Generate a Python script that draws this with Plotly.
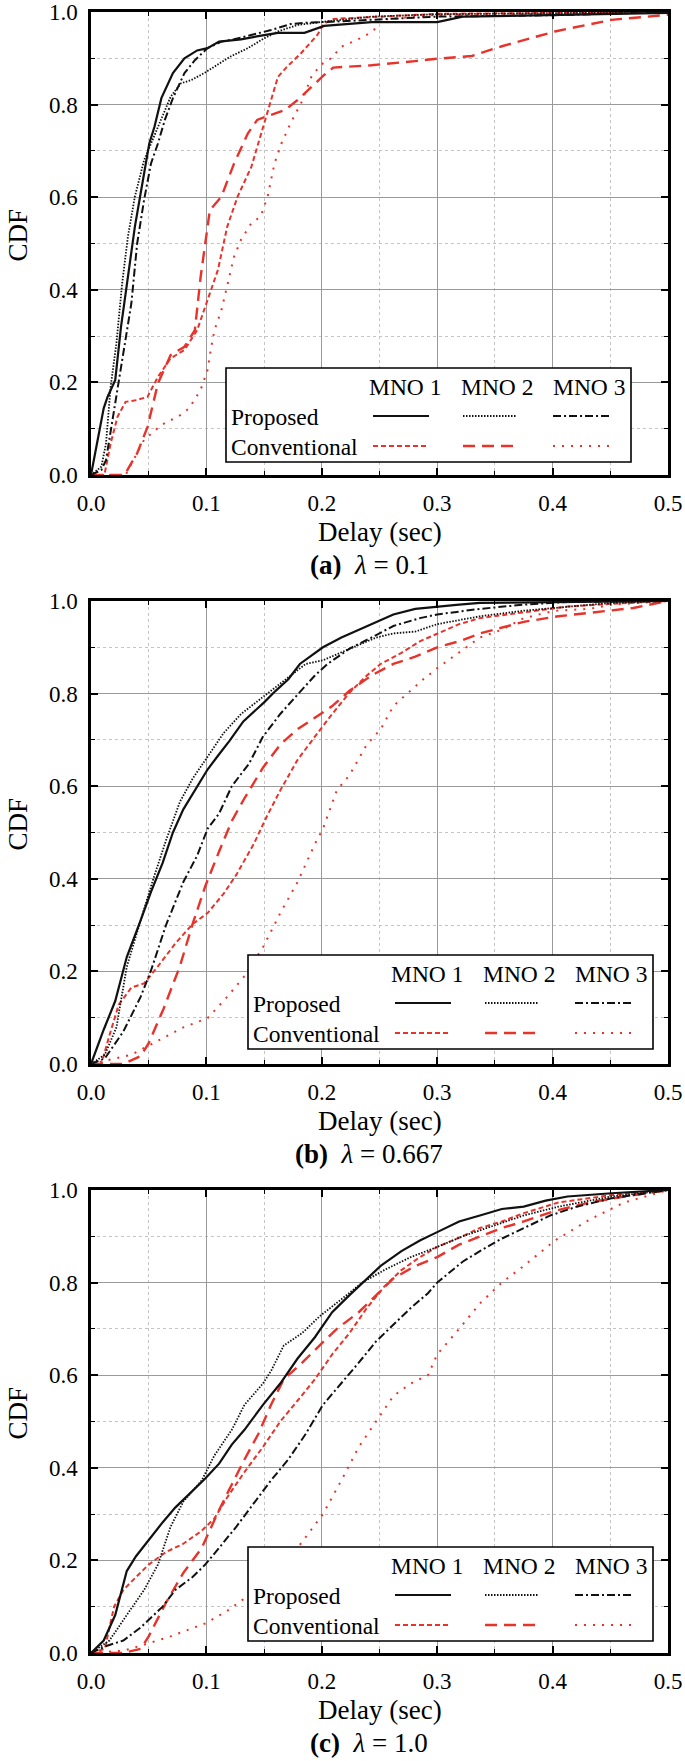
import plotly.graph_objects as go

# ---------------- data: panel (a) lambda = 0.1 ----------------
A_P1_X = [0, 0.011, 0.0144, 0.021, 0.026, 0.032, 0.038, 0.043, 0.0505, 0.055, 0.061, 0.071, 0.081, 0.092, 0.101, 0.111, 0.13, 0.15, 0.162, 0.185, 0.194, 0.202, 0.243, 0.3, 0.322, 0.5]
A_P1_Y = [0, 0.144, 0.169, 0.205, 0.32, 0.428, 0.536, 0.608, 0.716, 0.752, 0.814, 0.868, 0.90, 0.917, 0.922, 0.936, 0.941, 0.95, 0.955, 0.955, 0.963, 0.97, 0.978, 0.978, 0.99, 0.998]
A_P2_X = [0, 0.009, 0.013, 0.017, 0.022, 0.027, 0.032, 0.038, 0.046, 0.052, 0.061, 0.069, 0.078, 0.087, 0.098, 0.11, 0.121, 0.136, 0.15, 0.162, 0.179, 0.202, 0.243, 0.3, 0.5]
A_P2_Y = [0, 0.018, 0.068, 0.19, 0.284, 0.414, 0.515, 0.601, 0.68, 0.716, 0.767, 0.817, 0.846, 0.853, 0.868, 0.886, 0.904, 0.922, 0.943, 0.958, 0.972, 0.979, 0.99, 0.995, 1.0]
A_P3_X = [0, 0.009, 0.013, 0.019, 0.027, 0.035, 0.04, 0.046, 0.052, 0.058, 0.064, 0.071, 0.081, 0.09, 0.101, 0.113, 0.124, 0.139, 0.156, 0.173, 0.188, 0.208, 0.3, 0.4, 0.5]
A_P3_Y = [0, 0.011, 0.032, 0.126, 0.248, 0.371, 0.50, 0.594, 0.673, 0.716, 0.767, 0.814, 0.868, 0.896, 0.922, 0.936, 0.941, 0.95, 0.961, 0.974, 0.977, 0.979, 0.99, 0.993, 1.0]
A_C1_X = [0, 0.0116, 0.017, 0.023, 0.03, 0.04, 0.049, 0.058, 0.069, 0.081, 0.092, 0.101, 0.11, 0.118, 0.127, 0.139, 0.15, 0.162, 0.17, 0.182, 0.196, 0.202, 0.21, 0.3, 0.5]
A_C1_Y = [0, 0, 0.068, 0.126, 0.158, 0.162, 0.169, 0.212, 0.252, 0.27, 0.313, 0.378, 0.443, 0.536, 0.601, 0.666, 0.76, 0.86, 0.882, 0.911, 0.95, 0.975, 0.985, 0.996, 1.0]
A_C2_X = [0, 0.029, 0.04, 0.049, 0.058, 0.069, 0.081, 0.09, 0.095, 0.103, 0.113, 0.124, 0.136, 0.144, 0.156, 0.168, 0.179, 0.191, 0.202, 0.21, 0.243, 0.281, 0.3, 0.33, 0.356, 0.402, 0.451, 0.5]
A_C2_Y = [0, 0, 0.047, 0.104, 0.198, 0.259, 0.277, 0.313, 0.428, 0.572, 0.601, 0.673, 0.738, 0.767, 0.778, 0.788, 0.81, 0.839, 0.864, 0.88, 0.885, 0.894, 0.899, 0.905, 0.926, 0.958, 0.983, 0.994]
A_C3_X = [0, 0.03, 0.046, 0.061, 0.078, 0.085, 0.095, 0.098, 0.101, 0.104, 0.107, 0.113, 0.118, 0.124, 0.13, 0.139, 0.147, 0.153, 0.159, 0.165, 0.173, 0.182, 0.191, 0.199, 0.208, 0.217, 0.235, 0.245, 0.251, 0.3, 0.5]
A_C3_Y = [0, 0, 0.076, 0.108, 0.13, 0.144, 0.184, 0.205, 0.227, 0.274, 0.313, 0.356, 0.407, 0.472, 0.508, 0.544, 0.558, 0.601, 0.673, 0.716, 0.76, 0.803, 0.86, 0.886, 0.90, 0.925, 0.945, 0.96, 0.983, 0.994, 1.0]

# ---------------- data: panel (b) lambda = 0.667 ----------------
B_P1_X = [0, 0.011, 0.021, 0.031, 0.043, 0.052, 0.062, 0.071, 0.08, 0.092, 0.101, 0.111, 0.12, 0.132, 0.141, 0.15, 0.16, 0.171, 0.181, 0.19, 0.201, 0.217, 0.232, 0.251, 0.262, 0.281, 0.3, 0.319, 0.337, 0.5]
B_P1_Y = [0, 0.074, 0.136, 0.231, 0.31, 0.372, 0.434, 0.50, 0.55, 0.60, 0.636, 0.669, 0.698, 0.74, 0.76, 0.781, 0.806, 0.831, 0.864, 0.88, 0.90, 0.921, 0.938, 0.959, 0.971, 0.983, 0.988, 0.992, 0.996, 1.0]
B_P2_X = [0, 0.012, 0.022, 0.031, 0.043, 0.054, 0.065, 0.077, 0.088, 0.101, 0.115, 0.13, 0.149, 0.164, 0.186, 0.201, 0.224, 0.247, 0.262, 0.281, 0.3, 0.319, 0.337, 0.375, 0.413, 0.451, 0.5]
B_P2_Y = [0, 0.02, 0.079, 0.21, 0.31, 0.40, 0.483, 0.566, 0.616, 0.665, 0.715, 0.756, 0.793, 0.822, 0.864, 0.872, 0.897, 0.921, 0.93, 0.934, 0.95, 0.959, 0.967, 0.979, 0.988, 0.996, 1.0]
B_P3_X = [0, 0.012, 0.028, 0.043, 0.052, 0.065, 0.08, 0.092, 0.101, 0.111, 0.122, 0.137, 0.149, 0.164, 0.179, 0.194, 0.205, 0.224, 0.243, 0.262, 0.285, 0.3, 0.337, 0.375, 0.413, 0.5]
B_P3_Y = [0, 0.012, 0.07, 0.145, 0.202, 0.30, 0.393, 0.45, 0.508, 0.541, 0.60, 0.649, 0.707, 0.756, 0.798, 0.839, 0.864, 0.897, 0.921, 0.946, 0.963, 0.971, 0.983, 0.992, 0.998, 1.0]
B_C1_X = [0, 0.009, 0.016, 0.024, 0.035, 0.046, 0.058, 0.073, 0.088, 0.101, 0.115, 0.126, 0.141, 0.152, 0.164, 0.179, 0.194, 0.209, 0.224, 0.239, 0.251, 0.269, 0.285, 0.3, 0.319, 0.337, 0.375, 0.413, 0.451, 0.5]
B_C1_Y = [0, 0, 0.062, 0.128, 0.165, 0.174, 0.211, 0.26, 0.302, 0.326, 0.368, 0.409, 0.475, 0.533, 0.591, 0.657, 0.707, 0.756, 0.802, 0.839, 0.864, 0.888, 0.913, 0.93, 0.95, 0.963, 0.975, 0.988, 0.994, 1.0]
B_C2_X = [0, 0.028, 0.043, 0.05, 0.063, 0.077, 0.088, 0.099, 0.111, 0.122, 0.133, 0.149, 0.164, 0.179, 0.194, 0.209, 0.224, 0.243, 0.262, 0.281, 0.3, 0.319, 0.337, 0.375, 0.405, 0.432, 0.47, 0.5]
B_C2_Y = [0, 0, 0.017, 0.045, 0.12, 0.211, 0.302, 0.384, 0.459, 0.525, 0.574, 0.64, 0.69, 0.723, 0.748, 0.773, 0.806, 0.839, 0.864, 0.88, 0.90, 0.913, 0.93, 0.955, 0.967, 0.975, 0.985, 1.0]
B_C3_X = [0, 0.035, 0.054, 0.08, 0.101, 0.118, 0.133, 0.149, 0.164, 0.179, 0.194, 0.201, 0.213, 0.224, 0.239, 0.251, 0.262, 0.277, 0.288, 0.3, 0.319, 0.337, 0.356, 0.375, 0.402, 0.432, 0.451, 0.5]
B_C3_Y = [0, 0.02, 0.045, 0.079, 0.099, 0.145, 0.19, 0.252, 0.326, 0.393, 0.475, 0.508, 0.591, 0.624, 0.69, 0.723, 0.773, 0.806, 0.831, 0.855, 0.888, 0.921, 0.938, 0.963, 0.979, 0.983, 0.992, 1.0]

# ---------------- data: panel (c) lambda = 1.0 ----------------
C_P1_X = [0, 0.011, 0.021, 0.031, 0.039, 0.05, 0.062, 0.073, 0.084, 0.099, 0.111, 0.122, 0.133, 0.149, 0.164, 0.179, 0.194, 0.209, 0.224, 0.239, 0.251, 0.269, 0.285, 0.3, 0.319, 0.337, 0.356, 0.375, 0.394, 0.413, 0.451, 0.5]
C_P1_Y = [0, 0.027, 0.082, 0.177, 0.209, 0.245, 0.282, 0.314, 0.341, 0.377, 0.409, 0.45, 0.482, 0.536, 0.582, 0.636, 0.682, 0.736, 0.773, 0.809, 0.836, 0.868, 0.891, 0.909, 0.932, 0.945, 0.959, 0.964, 0.977, 0.986, 0.993, 1.0]
C_P2_X = [0, 0.016, 0.031, 0.046, 0.058, 0.069, 0.08, 0.096, 0.107, 0.122, 0.133, 0.149, 0.156, 0.167, 0.183, 0.198, 0.217, 0.235, 0.254, 0.277, 0.3, 0.322, 0.349, 0.375, 0.405, 0.451, 0.5]
C_P2_Y = [0, 0.027, 0.082, 0.136, 0.191, 0.273, 0.327, 0.373, 0.427, 0.482, 0.536, 0.582, 0.609, 0.664, 0.691, 0.727, 0.764, 0.80, 0.827, 0.855, 0.877, 0.90, 0.923, 0.945, 0.964, 0.986, 1.0]
C_P3_X = [0, 0.012, 0.028, 0.043, 0.062, 0.073, 0.088, 0.099, 0.111, 0.126, 0.141, 0.156, 0.171, 0.186, 0.201, 0.217, 0.232, 0.247, 0.262, 0.277, 0.292, 0.3, 0.322, 0.337, 0.356, 0.375, 0.398, 0.421, 0.451, 0.5]
C_P3_Y = [0, 0.014, 0.027, 0.055, 0.10, 0.136, 0.164, 0.191, 0.227, 0.273, 0.323, 0.373, 0.418, 0.473, 0.536, 0.582, 0.627, 0.673, 0.709, 0.745, 0.777, 0.80, 0.845, 0.868, 0.895, 0.918, 0.945, 0.964, 0.982, 1.0]
C_C1_X = [0, 0.012, 0.02, 0.028, 0.039, 0.05, 0.065, 0.08, 0.096, 0.107, 0.118, 0.133, 0.149, 0.164, 0.179, 0.194, 0.209, 0.224, 0.239, 0.254, 0.269, 0.285, 0.3, 0.322, 0.337, 0.356, 0.375, 0.405, 0.451, 0.5]
C_C1_Y = [0, 0.009, 0.10, 0.136, 0.164, 0.191, 0.218, 0.236, 0.264, 0.291, 0.336, 0.391, 0.445, 0.50, 0.545, 0.591, 0.645, 0.691, 0.745, 0.791, 0.827, 0.855, 0.877, 0.90, 0.918, 0.932, 0.95, 0.973, 0.989, 1.0]
C_C2_X = [0, 0.028, 0.043, 0.05, 0.065, 0.08, 0.096, 0.111, 0.122, 0.133, 0.145, 0.156, 0.167, 0.183, 0.198, 0.213, 0.232, 0.247, 0.262, 0.281, 0.3, 0.319, 0.337, 0.356, 0.375, 0.402, 0.432, 0.462, 0.5]
C_C2_Y = [0, 0, 0.009, 0.036, 0.109, 0.173, 0.227, 0.309, 0.364, 0.418, 0.473, 0.536, 0.591, 0.627, 0.664, 0.70, 0.736, 0.773, 0.809, 0.836, 0.855, 0.882, 0.90, 0.918, 0.932, 0.955, 0.973, 0.986, 1.0]
C_C3_X = [0, 0.028, 0.046, 0.069, 0.099, 0.118, 0.133, 0.149, 0.164, 0.179, 0.201, 0.217, 0.232, 0.247, 0.262, 0.277, 0.292, 0.3, 0.319, 0.337, 0.356, 0.375, 0.402, 0.432, 0.462, 0.5]
C_C3_Y = [0, 0.005, 0.018, 0.036, 0.064, 0.091, 0.118, 0.145, 0.182, 0.227, 0.30, 0.373, 0.445, 0.50, 0.555, 0.582, 0.60, 0.645, 0.70, 0.755, 0.80, 0.836, 0.891, 0.936, 0.973, 1.0]

CAPTIONS = ["<b>(a)</b>  <i>λ</i> = 0.1", "<b>(b)</b>  <i>λ</i> = 0.667", "<b>(c)</b>  <i>λ</i> = 1.0"]
X_TITLE = "Delay (sec)"
Y_TITLE = "CDF"
COL_HEADERS = ["MNO 1", "MNO 2", "MNO 3"]
ROW_HEADERS = ["Proposed", "Conventional"]

# ---------------- styles ----------------
W, H = 685, 1761
BLACK = "#111111"
RED = "#e8322a"
FONT = "Liberation Serif"
STYLES = {
    "P1": dict(color=BLACK, width=2.2, dash="solid"),
    "P2": dict(color=BLACK, width=1.8, dash="1.5px,1.5px"),
    "P3": dict(color=BLACK, width=2.0, dash="8px,3px,2px,3px"),
    "C1": dict(color=RED, width=2.0, dash="5px,3px"),
    "C2": dict(color=RED, width=2.4, dash="12px,7px"),
    "C3": dict(color=RED, width=2.0, dash="2px,7px"),
}

PANELS = [
    {"P1": (A_P1_X, A_P1_Y), "P2": (A_P2_X, A_P2_Y), "P3": (A_P3_X, A_P3_Y),
     "C1": (A_C1_X, A_C1_Y), "C2": (A_C2_X, A_C2_Y), "C3": (A_C3_X, A_C3_Y)},
    {"P1": (B_P1_X, B_P1_Y), "P2": (B_P2_X, B_P2_Y), "P3": (B_P3_X, B_P3_Y),
     "C1": (B_C1_X, B_C1_Y), "C2": (B_C2_X, B_C2_Y), "C3": (B_C3_X, B_C3_Y)},
    {"P1": (C_P1_X, C_P1_Y), "P2": (C_P2_X, C_P2_Y), "P3": (C_P3_X, C_P3_Y),
     "C1": (C_C1_X, C_C1_Y), "C2": (C_C2_X, C_C2_Y), "C3": (C_C3_X, C_C3_Y)},
]

# layout in pixels
PLOT_L, PLOT_R = 91, 668
PANEL_TOPS = [12, 601, 1190]
PANEL_H = 463
LEGEND_BOXES = [(226, 368), (248, 955), (248, 1547)]
LEG_W, LEG_H = 405, 94


def px(x):
    return x / W


def py(y):
    return 1 - y / H


fig = go.Figure()
order = ["C3", "C2", "C1", "P3", "P2", "P1"]
for i, panel in enumerate(PANELS):
    sfx = "" if i == 0 else str(i + 1)
    for key in order:
        xs, ys = panel[key]
        fig.add_trace(go.Scatter(x=xs, y=ys, mode="lines", line=STYLES[key],
                                 xaxis="x" + sfx, yaxis="y" + sfx,
                                 showlegend=False, hoverinfo="skip"))

tickfont = dict(family=FONT, size=23, color="black")
layout = dict(width=W, height=H, margin=dict(l=0, r=0, t=0, b=0, autoexpand=False),
              paper_bgcolor="white", plot_bgcolor="white", showlegend=False,
              font=dict(family=FONT, color="black"))

shapes = []
annotations = []
for i, top in enumerate(PANEL_TOPS):
    sfx = "" if i == 0 else str(i + 1)
    bottom = top + PANEL_H
    xa = dict(domain=[px(PLOT_L), px(PLOT_R)], range=[0, 0.5], tick0=0, dtick=0.1,
              tickformat=".1f", anchor="y" + sfx, automargin=False,
              showline=True, linecolor="black", linewidth=2.5, mirror="ticks",
              ticks="inside", ticklen=7, tickwidth=2, tickcolor="black",
              showgrid=True, gridcolor="#9a9a9a", gridwidth=1, zeroline=False,
              tickfont=tickfont, ticklabelstandoff=6,
              minor=dict(dtick=0.05, ticks="inside", ticklen=4, tickwidth=1.2,
                         tickcolor="black", showgrid=True, gridcolor="#c4c4c4",
                         griddash="dot", gridwidth=1))
    ya = dict(domain=[py(bottom), py(top)], range=[0, 1], tick0=0, dtick=0.2,
              tickformat=".1f", anchor="x" + sfx, automargin=False,
              showline=True, linecolor="black", linewidth=2.5, mirror="ticks",
              ticks="inside", ticklen=7, tickwidth=2, tickcolor="black",
              showgrid=True, gridcolor="#9a9a9a", gridwidth=1, zeroline=False,
              tickfont=tickfont, ticklabelstandoff=6,
              minor=dict(dtick=0.1, ticks="inside", ticklen=4, tickwidth=1.2,
                         tickcolor="black", showgrid=True, gridcolor="#c4c4c4",
                         griddash="dot", gridwidth=1))
    layout["xaxis" + sfx] = xa
    layout["yaxis" + sfx] = ya

    # axis titles and caption
    annotations.append(dict(text=X_TITLE, x=px((PLOT_L + PLOT_R) / 2), y=py(bottom + 57),
                            xref="paper", yref="paper", showarrow=False,
                            xanchor="center", yanchor="middle",
                            font=dict(family=FONT, size=27, color="black")))
    annotations.append(dict(text=CAPTIONS[i], x=px(369), y=py(bottom + 90),
                            xref="paper", yref="paper", showarrow=False,
                            xanchor="center", yanchor="middle",
                            font=dict(family=FONT, size=27, color="black")))
    annotations.append(dict(text=Y_TITLE, x=px(17), y=py(top + PANEL_H / 2 - 8),
                            xref="paper", yref="paper", showarrow=False, textangle=-90,
                            xanchor="center", yanchor="middle",
                            font=dict(family=FONT, size=27, color="black")))

    # custom table legend
    lx, ly = LEGEND_BOXES[i]
    shapes.append(dict(type="rect", xref="paper", yref="paper",
                       x0=px(lx), x1=px(lx + LEG_W), y0=py(ly + LEG_H), y1=py(ly),
                       line=dict(color="black", width=1.6), fillcolor="white", layer="above"))
    col_c = [179, 271, 363]
    seg = [(147, 203), (237, 290), (327, 383)]
    for j, name in enumerate(COL_HEADERS):
        annotations.append(dict(text=name, x=px(lx + col_c[j]), y=py(ly + 19),
                                xref="paper", yref="paper", showarrow=False,
                                xanchor="center", yanchor="middle",
                                font=dict(family=FONT, size=23.5, color="black")))
    row_y = [48, 78]
    for r, name in enumerate(ROW_HEADERS):
        annotations.append(dict(text=name, x=px(lx + 3), y=py(ly + row_y[r] + 1),
                                xref="paper", yref="paper", showarrow=False,
                                xanchor="left", yanchor="middle",
                                font=dict(family=FONT, size=23.5, color="black")))
        for j in range(3):
            key = ("P" if r == 0 else "C") + str(j + 1)
            st = STYLES[key]
            shapes.append(dict(type="line", xref="paper", yref="paper",
                               x0=px(lx + seg[j][0]), x1=px(lx + seg[j][1]),
                               y0=py(ly + row_y[r]), y1=py(ly + row_y[r]),
                               line=dict(color=st["color"], width=st["width"], dash=st["dash"]),
                               layer="above"))

layout["shapes"] = shapes
layout["annotations"] = annotations
fig.update_layout(**layout)
fig.write_html("out.html", config={"displayModeBar": False},
               post_script="document.body.style.margin='0';document.body.style.overflow='hidden';")
